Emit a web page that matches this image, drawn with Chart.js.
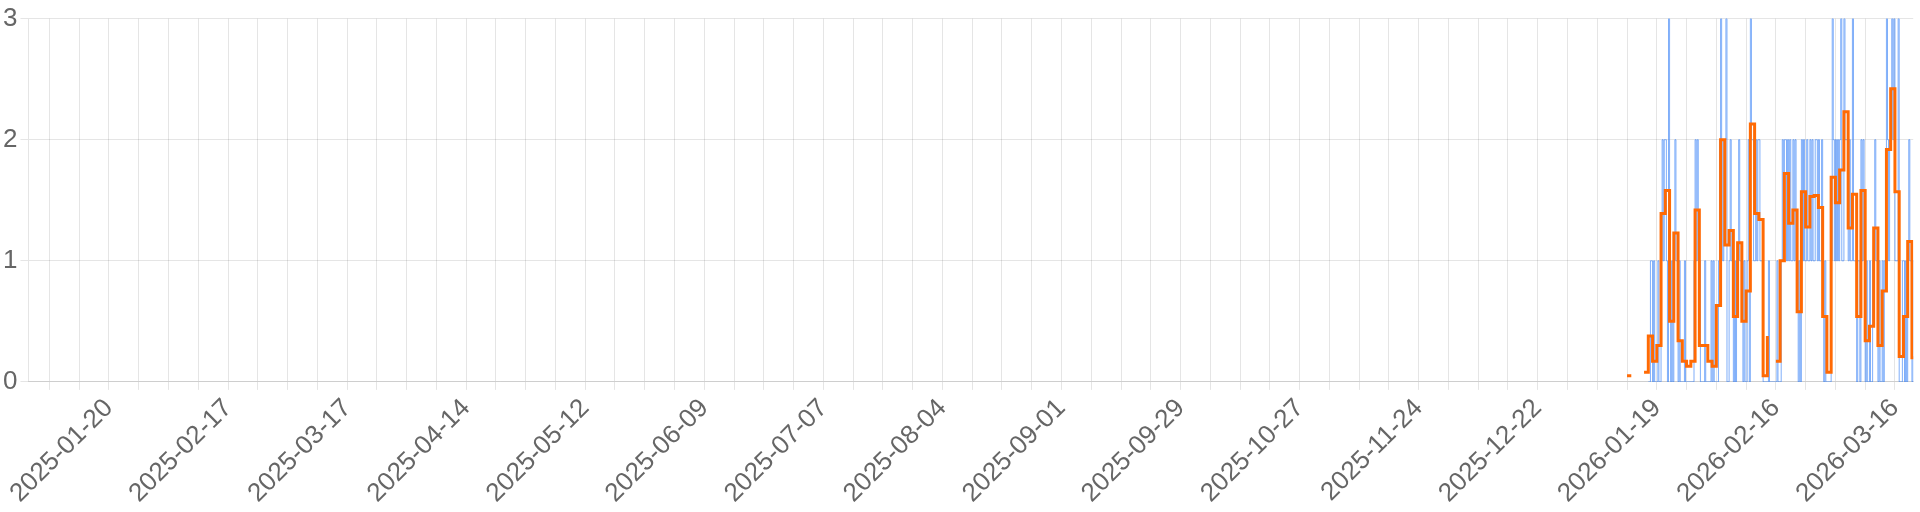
<!DOCTYPE html>
<html>
<head>
<meta charset="utf-8">
<script src="https://cdn.jsdelivr.net/npm/chart.js@4.4.1/dist/chart.umd.min.js"></script>
<style>
    html, body { margin: 0; padding: 0; background: #fff; }
    #wrap { width: 1920px; height: 512px; position: relative; }
</style>
</head>
<body>
<div id="wrap"><canvas id="chart"></canvas></div>
<script>
// x values are days counted from Monday 2025-01-06
const BASE_DATE = Date.UTC(2025, 0, 6);
const X_MIN = -4.93;   // 2025-01-01
const X_MAX = 438.3;   // 2026-03-20
const Y_TICKS = [0, 1, 2, 3];

// Raw readings: 4 per day (every 6 hours), first day = 376 (2026-01-17)
const rawFirstDay = 376;
const rawPerDay = 4;
const rawValues = [
    0,0,1,1, 0,1,0,0, 0,1,0,0, 1,2,1,2, 2,1,0,3, 1,0,1,0, 1,2,1,1,   // 376-382
    0,1,0,0, 0,0,1,0, 0,0,0,0, 0,0,0,1, 2,1,2,1, 1,0,0,0, 0,1,0,0,   // 383-389
    0,0,0,1, 0,1,0,0, 0,0,1,2, 3,2,1,2, 2,3,0,0, 1,2,1,1, 0,1,0,1,   // 390-396
    1,2,1,1, 1,0,1,0, 0,1,2,0, 3,2,2,1, 1,2,1,2, 2,1,1,1, 0,0,0,0,   // 397-403
    0,1,0,0, 0,0,0,0, 0,1,0,0, 0,1,2,1, 2,2,1,2, 1,2,1,1, 2,1,2,1,   // 404-410
    1,0,1,0, 2,1,2,1, 1,2,1,1, 2,1,2,1, 1,2,2,1, 2,1,1,2, 1,0,1,0,   // 411-417
    0,0,0,0, 1,3,2,1, 2,1,2,1, 2,3,1,1, 3,2,2,2, 1,2,1,1, 3,1,1,1,   // 418-424
    0,1,1,0, 2,1,2,1, 0,1,0,0, 1,0,0,1, 1,2,1,1, 0,1,0,0, 1,0,1,1,   // 425-431
    3,2,1,2, 2,3,2,3, 1,1,1,3, 0,0,0,1, 1,0,1,0, 1,2,1,1, 0,1,0,0,   // 432-438
    0                                                                // 439
];

// Daily average, first day = 371 (2026-01-12); null = no data
const avgFirstDay = 371;
const avgValues = [
    0.05, 0.05, null, null, 0.08, 0.38, 0.17,   // 371-377
    0.30, 1.39, 1.58, 0.50, 1.23, 0.34, 0.17,   // 378-384
    0.13, 0.17, 1.42, 0.30, 0.30, 0.17, 0.13,   // 385-391
    0.63, 2.00, 1.13, 1.25, 0.54, 1.15, 0.50,   // 392-398
    0.75, 2.13, 1.39, 1.34, 0.05, 0.38, null,   // 399-405
    0.17, 1.00, 1.72, 1.31, 1.42, 0.58, 1.57,   // 406-412
    1.28, 1.53, 1.54, 1.44, 0.54, 0.08, 1.69,   // 413-419
    1.48, 1.75, 2.23, 1.27, 1.55, 0.54, 1.58,   // 420-426
    0.34, 0.46, 1.27, 0.30, 0.75, 1.92, 2.42,   // 427-433
    1.57, 0.21, 0.54, 1.16, 0.20, 0.20          // 434-439
];

const rawPoints = rawValues.map((v, i) => ({ x: rawFirstDay + i / rawPerDay, y: v }));
const avgPoints = avgValues.map((v, i) => ({ x: avgFirstDay + i, y: v }));

function dayLabel(day) {
    return new Date(BASE_DATE + day * 86400000).toISOString().slice(0, 10);
}

const tickFont = { family: 'Liberation Sans, Arial, sans-serif', size: 26 };

const ctx = document.getElementById('chart').getContext('2d');
new Chart(ctx, {
    type: 'line',
    data: {
        datasets: [
            {
                label: 'Average',
                data: avgPoints,
                borderColor: 'rgb(255, 106, 4)',
                borderWidth: 3,
                stepped: true,
                pointRadius: 0,
                spanGaps: false,
                order: 0
            },
            {
                label: 'Raw',
                data: rawPoints,
                borderColor: 'rgba(59, 130, 246, 0.65)',
                borderWidth: 1,
                stepped: true,
                pointRadius: 0,
                order: 1
            }
        ]
    },
    options: {
        responsive: true,
        maintainAspectRatio: false,
        animation: false,
        parsing: false,
        layout: { padding: { top: 3 } },
        plugins: {
            legend: { display: false },
            tooltip: { enabled: false }
        },
        scales: {
            x: {
                type: 'linear',
                min: X_MIN,
                max: X_MAX,
                grid: { color: 'rgba(0,0,0,0.1)' },
                ticks: {
                    stepSize: 7,
                    autoSkip: false,
                    includeBounds: false,
                    minRotation: 45,
                    maxRotation: 45,
                    color: '#666',
                    font: tickFont,
                    callback: (v) => (v % 28 === 14 ? dayLabel(v) : '')
                }
            },
            y: {
                min: Y_TICKS[0],
                max: Y_TICKS[Y_TICKS.length - 1],
                grid: { color: 'rgba(0,0,0,0.1)' },
                ticks: {
                    stepSize: 1,
                    color: '#666',
                    font: tickFont
                }
            }
        }
    }
});
</script>
</body>
</html>
